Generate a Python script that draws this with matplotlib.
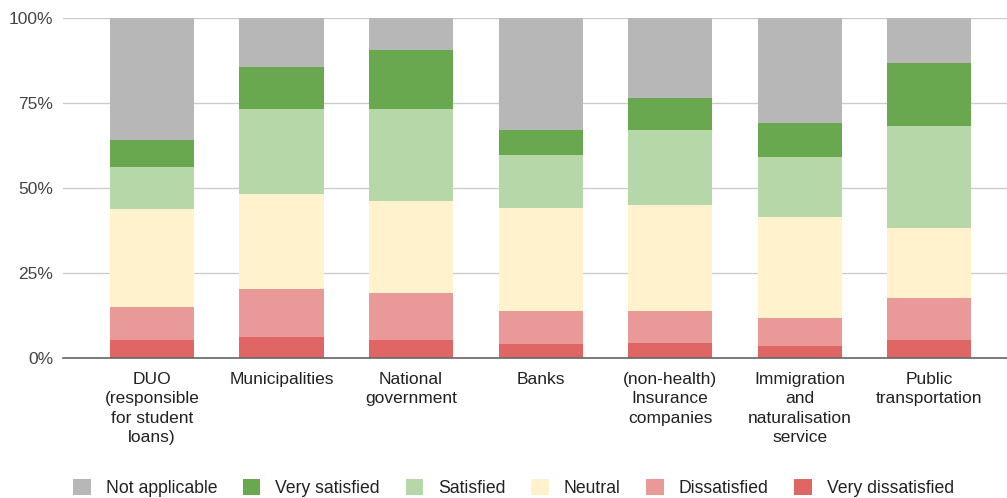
import matplotlib
matplotlib.use("Agg")
import matplotlib.pyplot as plt
import numpy as np

plt.rcParams["font.family"] = ["Liberation Sans", "DejaVu Sans"]

categories = [
    "DUO\n(responsible\nfor student\nloans)",
    "Municipalities",
    "National\ngovernment",
    "Banks",
    "(non-health)\nInsurance\ncompanies",
    "Immigration\nand\nnaturalisation\nservice",
    "Public\ntransportation",
]

# shares in percent, stacked bottom to top
very_dissatisfied = [5.2, 6.0, 5.1, 3.9, 4.3, 3.4, 5.1]
dissatisfied = [9.6, 14.2, 14.0, 9.9, 9.5, 8.2, 12.5]
neutral = [28.9, 28.0, 27.1, 30.2, 31.1, 29.7, 20.6]
satisfied = [12.5, 25.0, 27.0, 15.6, 22.0, 17.8, 30.0]
very_satisfied = [7.9, 12.5, 17.4, 7.4, 9.5, 9.9, 18.5]
not_applicable = [35.9, 14.3, 9.4, 33.0, 23.6, 31.0, 13.3]

series = [
    ("Very dissatisfied", very_dissatisfied, "#e06666"),
    ("Dissatisfied", dissatisfied, "#ea9999"),
    ("Neutral", neutral, "#fff2cc"),
    ("Satisfied", satisfied, "#b6d7a8"),
    ("Very satisfied", very_satisfied, "#6aa84f"),
    ("Not applicable", not_applicable, "#b7b7b7"),
]

fig = plt.figure(figsize=(10.07, 4.98), dpi=100)
ax = fig.add_axes([0.0626, 0.2817, 0.9374, 0.682])

x = np.arange(len(categories))
bottom = np.zeros(len(categories))
handles = {}
for name, values, color in series:
    values = np.array(values)
    handles[name] = ax.bar(x, values, bottom=bottom, width=0.65, color=color,
                           label=name, zorder=2)
    bottom += values

ax.set_xlim(-0.687, 6.6)
ax.set_ylim(0, 100)
ax.set_yticks([0, 25, 50, 75, 100])
ax.set_yticklabels(["0%", "25%", "50%", "75%", "100%"], fontsize=12.5, color="#444444")
ax.set_xticks(x)
ax.set_xticklabels(categories, fontsize=12.5, color="#222222", linespacing=1.38,
                   va="top", ha="center")
ax.tick_params(axis="y", length=0, pad=7)
ax.tick_params(axis="x", length=0, pad=10)

ax.grid(axis="y", color="#cccccc", linewidth=1, zorder=0)
for side in ["top", "right", "left"]:
    ax.spines[side].set_visible(False)
ax.spines["bottom"].set_color("#666666")
ax.spines["bottom"].set_linewidth(1.2)
ax.spines["bottom"].set_zorder(3)

order = ["Not applicable", "Very satisfied", "Satisfied", "Neutral",
         "Dissatisfied", "Very dissatisfied"]
fig.legend([handles[n] for n in order], order, loc="lower center",
           bbox_to_anchor=(0.51, -0.03), ncol=6, frameon=False, fontsize=12.7,
           handlelength=1.0, handleheight=1.0, handletextpad=0.85,
           columnspacing=1.45, labelcolor="#222222")

fig.savefig("out.png", dpi=100)
